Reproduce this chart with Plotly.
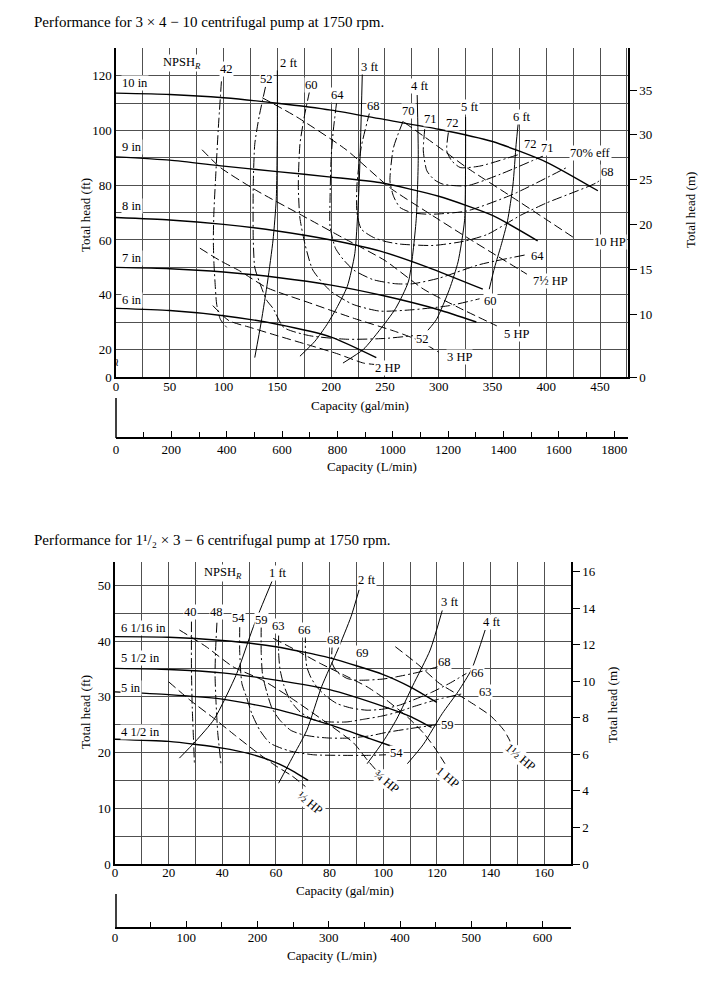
import plotly.graph_objects as go

W, H = 712, 1006
FT_PER_M = 3.2808
SERIF = "Liberation Serif, Times New Roman, serif"
GRID = "#505050"

# ================= TOP CHART: 3 x 4 - 10 pump (Q gal/min, H ft) =================
TOP_X_TICKS = [0, 50, 100, 150, 200, 250, 300, 350, 400, 450]
TOP_X_MINOR = [25, 75, 125, 175, 225, 275, 325, 375, 425, 475]
TOP_Y_TICKS = [20, 40, 60, 80, 100, 120]
TOP_Y_MINOR = [30, 50, 70, 90, 110, 130]
TOP_M_TICKS = [10, 15, 20, 25, 30, 35]
TOP_LMIN_TICKS = [0, 200, 400, 600, 800, 1000, 1200, 1400, 1600, 1800]
TOP_LMIN_MINOR = [100, 300, 500, 700, 900, 1100, 1300, 1500, 1700]

# impeller head curves
T_10IN_Q = [0, 50, 100, 150, 200, 250, 300, 350, 400, 448]
T_10IN_H = [113.7, 113.2, 112, 110, 107.5, 104, 100.5, 96, 88.5, 78]
T_9IN_Q = [0, 50, 100, 150, 200, 245, 300, 350, 392]
T_9IN_H = [90.4, 89.2, 87, 85, 83, 81, 76, 69, 59.7]
T_8IN_Q = [0, 50, 100, 150, 200, 245, 290, 341]
T_8IN_H = [68.2, 67.3, 65.7, 63.3, 60, 56, 50, 42]
T_7IN_Q = [0, 50, 100, 150, 200, 250, 300, 335]
T_7IN_H = [50, 49.5, 48.3, 46.3, 43.5, 39.5, 34.5, 30]
T_6IN_Q = [0, 50, 100, 150, 200, 242]
T_6IN_H = [35, 34.2, 32.3, 29.2, 24.5, 17]

# NPSH_R curves
T_NPSH2_Q = [129, 135, 141, 146, 149, 150, 150]
T_NPSH2_H = [17, 30, 45, 60, 75, 100, 122]
T_NPSH3_Q = [171, 185, 196, 205, 215, 222, 226, 229]
T_NPSH3_H = [17.5, 23, 29, 35, 43, 55, 80, 121]
T_NPSH4_Q = [211, 230, 245, 260, 272, 279, 281, 280]
T_NPSH4_H = [15, 20, 27, 35, 45, 67, 90, 113]
T_NPSH5_Q = [290, 298, 310, 318, 324, 325, 325]
T_NPSH5_H = [27, 31, 42, 52, 67, 90, 105]
T_NPSH6_Q = [347, 352, 358, 364, 369, 372, 374]
T_NPSH6_H = [42, 50, 58, 67, 80, 95, 103]

# efficiency curves (%)
T_E42_Q = [98, 95, 92.5, 91, 90.5, 91, 92, 93.6, 97, 103]
T_E42_H = [118, 100, 82, 70, 60, 52, 45, 36.5, 31, 28]
T_E52_Q = [139, 133, 129, 127.6, 127.6, 129, 133, 140, 146, 156, 180, 215, 250, 276]
T_E52_H = [116, 105, 95, 80, 60, 50, 45, 38, 35, 28, 25, 23.7, 24, 25]
T_E60_Q = [180, 175, 171, 169.5, 171, 176, 183, 199, 220, 245, 276, 310, 338]
T_E60_H = [114.5, 105, 95, 80, 68, 58, 49, 41.5, 36.5, 34, 34.5, 36, 38.5]
T_E64_Q = [205, 202, 200, 199, 199, 204, 211, 221, 239, 260, 276, 300, 338, 380]
T_E64_H = [110, 100, 90, 75, 65, 57, 53, 49, 45.5, 44, 44, 46, 51, 54.5]
T_E68_Q = [236, 228, 224, 224, 228, 239, 250, 264, 295, 323, 345, 376, 400, 447, 456]
T_E68_H = [107, 94, 80, 70, 64, 61, 59.5, 58.5, 58, 59.5, 62, 69, 73.5, 81, 84]
T_E70_Q = [267, 258, 254.7, 258, 264, 275, 292, 326, 369, 419]
T_E70_H = [103.5, 93.8, 81.6, 76, 71.9, 70, 69.4, 70.6, 76.7, 86.5]
T_E71_Q = [287, 285.7, 289, 296, 304, 326, 357, 397]
T_E71_H = [100.5, 92.6, 85.3, 82, 80.4, 79.8, 84, 90.7]
T_E72_Q = [309, 307.5, 312, 320, 338, 375.6]
T_E72_H = [99.3, 92.6, 89, 86.5, 87, 91.4]

# power curves (HP)
T_P2_Q = [90, 105, 125, 150, 180, 205, 230, 240]
T_P2_H = [36, 30.5, 28, 25, 21.5, 18.5, 15, 14.5]
T_P3_Q = [78, 97, 115, 140, 180, 220, 260, 280, 300]
T_P3_H = [57, 52.4, 48.7, 42.6, 37, 31.5, 26.5, 23.5, 19]
T_P5_Q = [80, 97, 131, 171, 210, 250, 286, 320, 354]
T_P5_H = [93, 86.5, 78, 69.4, 61, 52.5, 42, 35, 28.6]
T_P75_Q = [136, 168, 214, 255, 290, 326, 355, 382]
T_P75_H = [112, 105, 93, 79, 70, 61, 54, 47.5]
T_P10_Q = [268, 300, 326, 369, 400, 425]
T_P10_H = [103, 94, 86.5, 75.5, 67.5, 61]

# ================= BOTTOM CHART: 1 1/2 x 3 - 6 pump =================
BOT_X_TICKS = [0, 20, 40, 60, 80, 100, 120, 140, 160]
BOT_X_MINOR = [10, 30, 50, 70, 90, 110, 130, 150, 170]
BOT_Y_TICKS = [0, 10, 20, 30, 40, 50]
BOT_Y_MINOR = [5, 15, 25, 35, 45]
BOT_M_TICKS = [0, 2, 4, 6, 8, 10, 12, 14, 16]
BOT_LMIN_TICKS = [0, 100, 200, 300, 400, 500, 600]
BOT_LMIN_MINOR = [50, 150, 250, 350, 450, 550]

B_6116_Q = [0, 20, 40, 60, 80, 100, 110, 120]
B_6116_H = [40.8, 40.7, 40.1, 39, 37, 34, 31.8, 29]
B_512_Q = [0, 20, 40, 60, 80, 100, 110, 118]
B_512_H = [35.1, 34.9, 34.3, 33, 31.3, 28.3, 26.5, 24.5]
B_5_Q = [0, 20, 40, 60, 80, 95, 104]
B_5_H = [30.9, 30.4, 29.6, 27.8, 25, 22.5, 21]
B_412_Q = [0, 20, 40, 50, 60, 67, 72]
B_412_H = [22.4, 22, 20.8, 19.8, 18.2, 16.5, 15]

B_NPSH1_Q = [24, 30, 37, 45.4, 51.6, 58.5]
B_NPSH1_H = [19, 22, 26, 34.2, 42.6, 50.7]
B_NPSH2_Q = [61, 66, 71.5, 77, 83, 88, 91]
B_NPSH2_H = [14.5, 19, 24, 31.8, 38.4, 44.4, 49.2]
B_NPSH3_Q = [94, 100, 105, 111, 117.5, 122]
B_NPSH3_H = [18, 22, 26, 32, 38.4, 45.5]
B_NPSH4_Q = [109, 115, 122, 128, 133, 138]
B_NPSH4_H = [18, 21.5, 27, 31, 35, 42]

B_E40_Q = [28.5, 28.5, 28.8, 29.3, 29.6]
B_E40_H = [43.5, 35, 28, 22, 18]
B_E48_Q = [38, 37.5, 37.3, 37.6, 38.3, 39.6]
B_E48_H = [43.3, 38.4, 34, 29.7, 23.6, 17.6]
B_E54_Q = [46.5, 46.5, 47.3, 49, 51, 54, 57.8, 65, 74, 85, 95, 101]
B_E54_H = [42.5, 38, 32.4, 30, 27, 24, 21.7, 20.3, 19.6, 19.5, 19.5, 19.6]
B_E59_Q = [54.5, 54.5, 55, 56.5, 58.5, 61.5, 65.5, 70, 75, 80, 87, 95, 101, 110, 120]
B_E59_H = [42.5, 38, 34, 31, 28, 25.8, 24, 23.2, 22.8, 22.6, 22.6, 23, 23.6, 24.3, 25]
B_E63_Q = [61, 61, 61.5, 63, 65.3, 69, 74, 80, 86.5, 93, 99, 105, 111, 120, 130]
B_E63_H = [41, 38, 35, 32, 29.4, 27.3, 25.9, 25.5, 25.5, 26, 26.5, 27.2, 28.2, 29.5, 30.6]
B_E66_Q = [71, 71, 71.5, 73, 75.2, 78.5, 82.7, 88, 94, 100, 106, 111, 118, 125, 131]
B_E66_H = [41.5, 38, 35.4, 33.5, 31.8, 30.2, 28.8, 28, 27.6, 27.8, 28.5, 29.4, 30.8, 32.5, 34.2]
B_E68_Q = [81, 80.8, 81, 82.7, 86.5, 90, 94, 100, 105, 113, 121]
B_E68_H = [39.5, 37.5, 36, 34.5, 33.3, 33, 33, 33.2, 33.6, 34.4, 35.5]

B_P05_Q = [20, 28, 36.7, 45, 53, 60, 66, 71]
B_P05_H = [32.7, 29.4, 26.2, 23, 20, 17.6, 15.8, 13.9]
B_P075_Q = [24, 34, 44, 55, 65, 77, 89, 94, 98]
B_P075_H = [42, 39, 35.4, 33, 30, 26, 21.7, 18.7, 16.5]
B_P1_Q = [59, 67, 76.5, 85, 94, 101, 109, 115, 119, 123]
B_P1_H = [40.5, 38.5, 36, 34, 31.8, 29.5, 26.4, 23.5, 21, 18]
B_P15_Q = [104.5, 113, 121, 131, 140, 145, 148]
B_P15_H = [39, 35.8, 32.4, 29.5, 26.6, 24, 21.4]

# ---------------- geometry (paper fractions) ----------------
TOP_XDOM = [116 / W, 628 / W]
TOP_YDOM = [1 - 377 / H, 1 - 48 / H]
TOP_YRANGE = [9.9, 130.2]
BOT_XDOM = [115 / W, 571 / W]
BOT_YDOM = [1 - 864 / H, 1 - 562 / H]
BOT_YRANGE = [0, 54.2]

fig = go.Figure()

SOLID = "solid"
EFF = "10px,3px,2px,3px"
POW = "9px,4px"


def add(q, h, xa, ya, dash, width):
    fig.add_trace(go.Scatter(
        x=q, y=h, xaxis=xa, yaxis=ya, mode="lines",
        line=dict(color="black", width=width, dash=dash, shape="spline", smoothing=0.6),
        hoverinfo="skip", showlegend=False))


for q, h in [(T_10IN_Q, T_10IN_H), (T_9IN_Q, T_9IN_H), (T_8IN_Q, T_8IN_H),
             (T_7IN_Q, T_7IN_H), (T_6IN_Q, T_6IN_H)]:
    add(q, h, "x", "y", SOLID, 1.4)
for q, h in [(T_NPSH2_Q, T_NPSH2_H), (T_NPSH3_Q, T_NPSH3_H), (T_NPSH4_Q, T_NPSH4_H),
             (T_NPSH5_Q, T_NPSH5_H), (T_NPSH6_Q, T_NPSH6_H)]:
    add(q, h, "x", "y", SOLID, 1.0)
for q, h in [(T_E42_Q, T_E42_H), (T_E52_Q, T_E52_H), (T_E60_Q, T_E60_H), (T_E64_Q, T_E64_H),
             (T_E68_Q, T_E68_H), (T_E70_Q, T_E70_H), (T_E71_Q, T_E71_H), (T_E72_Q, T_E72_H)]:
    add(q, h, "x", "y", EFF, 1.0)
for q, h in [(T_P2_Q, T_P2_H), (T_P3_Q, T_P3_H), (T_P5_Q, T_P5_H), (T_P75_Q, T_P75_H),
             (T_P10_Q, T_P10_H)]:
    add(q, h, "x", "y", POW, 1.0)

for q, h in [(B_6116_Q, B_6116_H), (B_512_Q, B_512_H), (B_5_Q, B_5_H), (B_412_Q, B_412_H)]:
    add(q, h, "x3", "y3", SOLID, 1.4)
for q, h in [(B_NPSH1_Q, B_NPSH1_H), (B_NPSH2_Q, B_NPSH2_H), (B_NPSH3_Q, B_NPSH3_H),
             (B_NPSH4_Q, B_NPSH4_H)]:
    add(q, h, "x3", "y3", SOLID, 1.0)
for q, h in [(B_E40_Q, B_E40_H), (B_E48_Q, B_E48_H), (B_E54_Q, B_E54_H), (B_E59_Q, B_E59_H),
             (B_E63_Q, B_E63_H), (B_E66_Q, B_E66_H), (B_E68_Q, B_E68_H)]:
    add(q, h, "x3", "y3", EFF, 1.0)
for q, h in [(B_P05_Q, B_P05_H), (B_P075_Q, B_P075_H), (B_P1_Q, B_P1_H), (B_P15_Q, B_P15_H)]:
    add(q, h, "x3", "y3", POW, 1.0)

# invisible anchors so secondary axes render
for xa, ya in [("x", "y2"), ("x2", "y"), ("x3", "y4"), ("x4", "y3")]:
    fig.add_trace(go.Scatter(x=[0], y=[0], xaxis=xa, yaxis=ya, mode="markers",
                             marker=dict(opacity=0), hoverinfo="skip", showlegend=False))

TF = dict(family=SERIF, size=13, color="black")

annotations = []


def lab(text, x, y, xref, yref, size=12.5, angle=0, xanchor="center", bg=True):
    annotations.append(dict(
        text=text, x=x, y=y, xref=xref, yref=yref, showarrow=False, textangle=angle,
        xanchor=xanchor, yanchor="middle", font=dict(family=SERIF, size=size, color="black"),
        bgcolor="white" if bg else "rgba(0,0,0,0)", borderpad=0))


# titles
lab("Performance for 3 × 4 − 10 centrifugal pump at 1750 rpm.", 33 / W, 1 - 22 / H,
    "paper", "paper", size=15, xanchor="left", bg=False)
lab("Performance for 1¹/₂ × 3 − 6 centrifugal pump at 1750 rpm.", 33 / W, 1 - 540 / H,
    "paper", "paper", size=15, xanchor="left", bg=False)
lab("Capacity (gal/min)", 360 / W, 1 - 405 / H, "paper", "paper", size=13, bg=False)
lab("Capacity (L/min)", 372 / W, 1 - 466 / H, "paper", "paper", size=13, bg=False)
lab("Capacity (gal/min)", 345 / W, 1 - 890 / H, "paper", "paper", size=13, bg=False)
lab("Capacity (L/min)", 332 / W, 1 - 955 / H, "paper", "paper", size=13, bg=False)
lab("Total head (ft)", 85 / W, 1 - 215 / H, "paper", "paper", size=13, angle=-90, bg=False)
lab("Total head (m)", 690 / W, 1 - 210 / H, "paper", "paper", size=13, angle=-90, bg=False)
lab("Total head (ft)", 85 / W, 1 - 712 / H, "paper", "paper", size=13, angle=-90, bg=False)
lab("Total head (m)", 612 / W, 1 - 705 / H, "paper", "paper", size=13, angle=-90, bg=False)
lab("≀", 117 / W, 1 - 362 / H, "paper", "paper", size=11, bg=False)

# top chart labels
for t, x, y in [("10 in", 5, 117.4), ("9 in", 5, 94), ("8 in", 5, 72.5), ("7 in", 5, 53.5),
                ("6 in", 5, 38)]:
    lab(t, x, y, "x", "y", xanchor="left")
for t, x, y in [("NPSH<sub><i>R</i></sub>", 61.4, 124.8), ("42", 102.3, 122.6), ("52", 139.5, 118.9),
                ("2 ft", 160.8, 124.8), ("60", 181.3, 116.7), ("64", 205.5, 113),
                ("3 ft", 236.2, 123.3), ("68", 239, 109), ("4 ft", 282.6, 116.3),
                ("70", 271.5, 107.2), ("71", 292, 104.3), ("72", 312.4, 102.8),
                ("5 ft", 329, 108.7), ("6 ft", 377.5, 105), ("72", 385, 95.1),
                ("71", 401.6, 93.7), ("70% eff", 440.7, 91.8), ("68", 456.5, 84.9),
                ("10 HP", 459.3, 59.3), ("64", 391.4, 54.2), ("7½ HP", 403.5, 45),
                ("60", 347.7, 37.7), ("5 HP", 372.8, 25.7), ("52", 284.5, 23.8),
                ("3 HP", 319.8, 17.3), ("2 HP", 252, 13.2)]:
    lab(t, x, y, "x", "y")

# bottom chart labels
for t, x, y in [("6 1/16 in", 2, 42.4), ("5 1/2 in", 2, 37), ("5 in", 2, 31.6), ("4 1/2 in", 2, 23.7)]:
    lab(t, x, y, "x3", "y3", xanchor="left")
for t, x, y in [("NPSH<sub><i>R</i></sub>", 40.3, 52.2), ("1 ft", 60.8, 52.2), ("2 ft", 94, 51),
                ("3 ft", 124.9, 47), ("4 ft", 140.6, 43.4), ("40", 28, 45.2), ("48", 38, 45.2),
                ("54", 45.9, 44.2), ("59", 54.8, 43.8), ("63", 60.8, 42.7), ("66", 70.8, 42),
                ("68", 81.3, 40.2), ("69", 92.1, 37.9), ("68", 123, 36.3), ("66", 135, 34.3),
                ("63", 138, 30.9), ("59", 123.8, 25), ("54", 105.1, 19.9)]:
    lab(t, x, y, "x3", "y3")
for t, x, y in [("½ HP", 72.7, 11), ("¾ HP", 101.4, 14.7), ("1 HP", 123.8, 15.6),
                ("1½ HP", 151, 19.2)]:
    lab(t, x, y, "x3", "y3", angle=40)

axis_common = dict(tickfont=TF, zeroline=False, color="black", automargin=False)

fig.update_layout(
    width=W, height=H, margin=dict(l=0, r=0, t=0, b=0, autoexpand=False),
    paper_bgcolor="white", plot_bgcolor="white",
    font=dict(family=SERIF, size=12, color="black"),
    annotations=annotations,
    shapes=[
        dict(type="line", xref="paper", yref="paper", x0=116 / W, x1=116 / W,
             y0=1 - 398 / H, y1=1 - 438 / H, line=dict(color="black", width=1.5)),
        dict(type="line", xref="paper", yref="paper", x0=116 / W, x1=116 / W,
             y0=1 - 894 / H, y1=1 - 928 / H, line=dict(color="black", width=1.5)),
    ],
    xaxis=dict(domain=TOP_XDOM, range=[0, 476], anchor="y", tickmode="array", tickvals=TOP_X_TICKS,
               showgrid=True, gridcolor=GRID, gridwidth=1, ticks="", ticklabelstandoff=-4,
               minor=dict(tickmode="array", tickvals=TOP_X_MINOR, showgrid=True, gridcolor=GRID,
                          gridwidth=1, ticks=""),
               showline=True, linecolor="black", linewidth=2, **axis_common),
    yaxis=dict(domain=TOP_YDOM, range=TOP_YRANGE, anchor="x", tickmode="array",
               tickvals=[TOP_YRANGE[0]] + TOP_Y_TICKS,
               ticktext=["0"] + [str(v) for v in TOP_Y_TICKS],
               showgrid=True, gridcolor=GRID, gridwidth=1, ticks="",
               minor=dict(tickmode="array", tickvals=TOP_Y_MINOR, showgrid=True, gridcolor=GRID,
                          gridwidth=1, ticks=""),
               showline=True, linecolor="black", linewidth=1.5, **axis_common),
    yaxis2=dict(overlaying="y", side="right", anchor="x",
                range=[TOP_YRANGE[0] / FT_PER_M, TOP_YRANGE[1] / FT_PER_M], tickmode="array",
                tickvals=[TOP_YRANGE[0] / FT_PER_M] + TOP_M_TICKS,
                ticktext=["0"] + [str(v) for v in TOP_M_TICKS],
                ticks="outside", ticklen=7, tickcolor="black", showgrid=False,
                showline=True, linecolor="black", linewidth=1.5, **axis_common),
    xaxis2=dict(overlaying="x", anchor="free", position=1 - 438 / H, side="bottom",
                range=[0, 1850], tickmode="array", tickvals=TOP_LMIN_TICKS,
                ticks="inside", ticklen=6, tickcolor="black",
                minor=dict(tickmode="array", tickvals=TOP_LMIN_MINOR, ticks="inside", ticklen=5,
                           tickcolor="black", showgrid=False),
                showgrid=False, showline=True, linecolor="black", linewidth=1.5, **axis_common),
    xaxis3=dict(domain=BOT_XDOM, range=[0, 170], anchor="y3", tickmode="array", tickvals=BOT_X_TICKS,
                showgrid=True, gridcolor=GRID, gridwidth=1, ticks="", ticklabelstandoff=-5,
                minor=dict(tickmode="array", tickvals=BOT_X_MINOR, showgrid=True, gridcolor=GRID,
                           gridwidth=1, ticks=""),
                showline=True, linecolor="black", linewidth=2, **axis_common),
    yaxis3=dict(domain=BOT_YDOM, range=BOT_YRANGE, anchor="x3", tickmode="array", tickvals=BOT_Y_TICKS,
                showgrid=True, gridcolor=GRID, gridwidth=1, ticks="",
                minor=dict(tickmode="array", tickvals=BOT_Y_MINOR, showgrid=True, gridcolor=GRID,
                           gridwidth=1, ticks=""),
                showline=True, linecolor="black", linewidth=1.5, **axis_common),
    yaxis4=dict(overlaying="y3", side="right", anchor="x3",
                range=[BOT_YRANGE[0] / FT_PER_M, BOT_YRANGE[1] / FT_PER_M], tickmode="array",
                tickvals=BOT_M_TICKS, ticks="outside", ticklen=7, tickcolor="black", showgrid=False,
                showline=True, linecolor="black", linewidth=1.5, **axis_common),
    xaxis4=dict(overlaying="x3", anchor="free", position=1 - 928 / H, side="bottom",
                range=[0, 640], tickmode="array", tickvals=BOT_LMIN_TICKS,
                ticks="inside", ticklen=6, tickcolor="black", ticklabelstandoff=-2,
                minor=dict(tickmode="array", tickvals=BOT_LMIN_MINOR, ticks="inside", ticklen=5,
                           tickcolor="black", showgrid=False),
                showgrid=False, showline=True, linecolor="black", linewidth=1.5, **axis_common),
)

fig.write_html("out.html", config={"displayModeBar": False},
               post_script="document.body.style.margin='0';document.body.style.overflow='hidden';")
